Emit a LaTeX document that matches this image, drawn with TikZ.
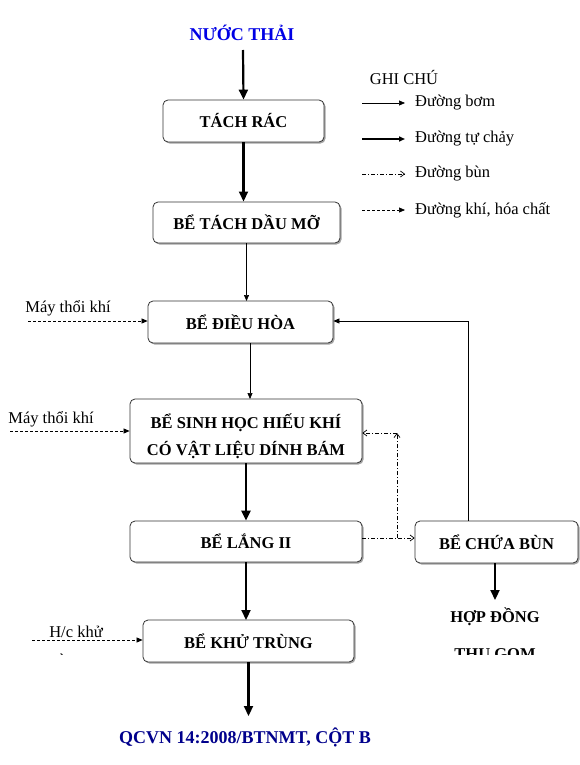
\documentclass[tikz,border=0pt]{standalone}
\usepackage{fontspec}
\setmainfont{Liberation Serif}
\usetikzlibrary{arrows.meta,shadows}
\begin{document}
\begin{tikzpicture}[x=1pt,y=-1pt,
  box/.style={draw=black!80,line width=0.8pt,rounded corners=5pt,fill=white,
    drop shadow={shadow xshift=1.5pt,shadow yshift=-1.5pt,fill=black!45,opacity=0.8},
    font=\fontsize{16.5}{19}\selectfont\bfseries,align=center,inner sep=0pt},
  lbl/.style={font=\fontsize{16.5}{19}\selectfont,inner sep=0pt},
  pump/.style={line width=0.7pt,-{Triangle[length=6pt,width=5pt]}},
  grav/.style={line width=2.2pt,-{Triangle[length=10pt,width=9pt]}},
  sludge/.style={line width=0.7pt,dash pattern=on 4pt off 2pt on 1pt off 2pt,-{Straight Barb[length=4pt,width=6pt]}},
  gas/.style={line width=0.7pt,dash pattern=on 3pt off 2pt,-{Triangle[length=6pt,width=5pt]}}]
\useasboundingbox (0,0) rectangle (580,765);
\fill[white] (0,0) rectangle (580,765);

\node[font=\fontsize{18}{21}\selectfont\bfseries,text=blue!90!black,inner sep=0pt] (in) at (242,33) {NƯỚC THẢI};

\node[box,minimum width=161pt,minimum height=42pt] (tr) at (243.5,121) {TÁCH RÁC};
\node[box,minimum width=187pt,minimum height=41pt] (dm) at (246.5,222.5) {BỂ TÁCH DẦU MỠ};
\node[box,minimum width=185pt,minimum height=42pt] (dh) at (240.5,322) {BỂ ĐIỀU HÒA};
\node[box,minimum width=232pt,minimum height=64pt] (sh) at (246,431) {};
\node[font=\fontsize{16.5}{27}\selectfont\bfseries,align=center,inner sep=0pt] (shtxt) at (246,436) {BỂ SINH HỌC HIẾU KHÍ\\CÓ VẬT LIỆU DÍNH BÁM};
\node[box,minimum width=232pt,minimum height=41pt] (lg) at (246,541.5) {BỂ LẮNG II};
\node[box,minimum width=211pt,minimum height=42pt] (kt) at (248.5,641) {BỂ KHỬ TRÙNG};
\node[box,minimum width=163pt,minimum height=42pt] (cb) at (496.5,542) {BỂ CHỨA BÙN};

\node[font=\fontsize{18}{21}\selectfont\bfseries,text=blue!55!black,inner sep=0pt] (out) at (245,737) {QCVN 14:2008/BTNMT, CỘT B};
\node[font=\fontsize{16.5}{19}\selectfont\bfseries,inner sep=0pt] (hd) at (495,617) {HỢP ĐỒNG};
\begin{scope}
\clip (0,0) rectangle (580,654.5);
\node[font=\fontsize{16.5}{19}\selectfont\bfseries,inner sep=0pt,anchor=base] (tg) at (495,659.5) {THU GOM};
\node[lbl,anchor=base] (hc2) at (66,665) {trùng};
\end{scope}

% main flow
\coordinate (inb) at (243,50);
\draw[grav] (inb) -- (tr.north);
\draw[grav] (tr.south) -- (243.5,201.5);
\draw[pump] (dm.south) -- (246.5,301);
\draw[pump] (250,343) -- (250,399);
\draw[grav] (sh.south) -- (lg.north);
\draw[grav] (lg.south) -- (246,620);
\draw[grav] (248.5,662) -- (248.5,716);
\draw[grav] (cb.south -| 495,0) -- (495,600);

% return
\draw[pump] (cb.north -| 468,0) -- (468,321) -- (dh.east |- 0,321);

% sludge
\coordinate (sp) at (397,538);
\coordinate (st) at (397,433);
\draw[sludge] (lg.east |- sp) -- (cb.west |- sp);
\draw[sludge] (sp) -- (st);
\draw[sludge] (st) -- (sh.east |- st);

% inputs
\coordinate (a1) at (28,321);
\coordinate (a2) at (10,431);
\coordinate (a3) at (32,640);
\node[lbl] (m1) at (68,308) {Máy thổi khí};
\node[lbl] (m2) at (51,419) {Máy thổi khí};
\node[lbl] (hc) at (76,632) {H/c khử};
\draw[gas] (a1) -- (dh.west |- a1);
\draw[gas] (a2) -- (sh.west |- a2);
\draw[gas] (a3) -- (kt.west |- a3);

% legend
\node[lbl] (gc) at (404,77) {GHI CHÚ};
\coordinate (l1) at (362,103); \coordinate (l1e) at (405,103);
\coordinate (l2) at (362,139); \coordinate (l2e) at (405,139);
\coordinate (l3) at (362,174); \coordinate (l3e) at (405,174);
\coordinate (l4) at (362,210); \coordinate (l4e) at (405,210);
\draw[pump] (l1) -- (l1e);
\draw[line width=1.6pt,-{Triangle[length=6pt,width=5pt]}] (l2) -- (l2e);
\draw[sludge] (l3) -- (l3e);
\draw[gas] (l4) -- (l4e);
\node[lbl,anchor=west] (t1) at (415,103) {Đường bơm};
\node[lbl,anchor=west] (t2) at (415,139) {Đường tự chảy};
\node[lbl,anchor=west] (t3) at (415,174) {Đường bùn};
\node[lbl,anchor=west] (t4) at (415,210) {Đường khí, hóa chất};
\end{tikzpicture}
\end{document}
